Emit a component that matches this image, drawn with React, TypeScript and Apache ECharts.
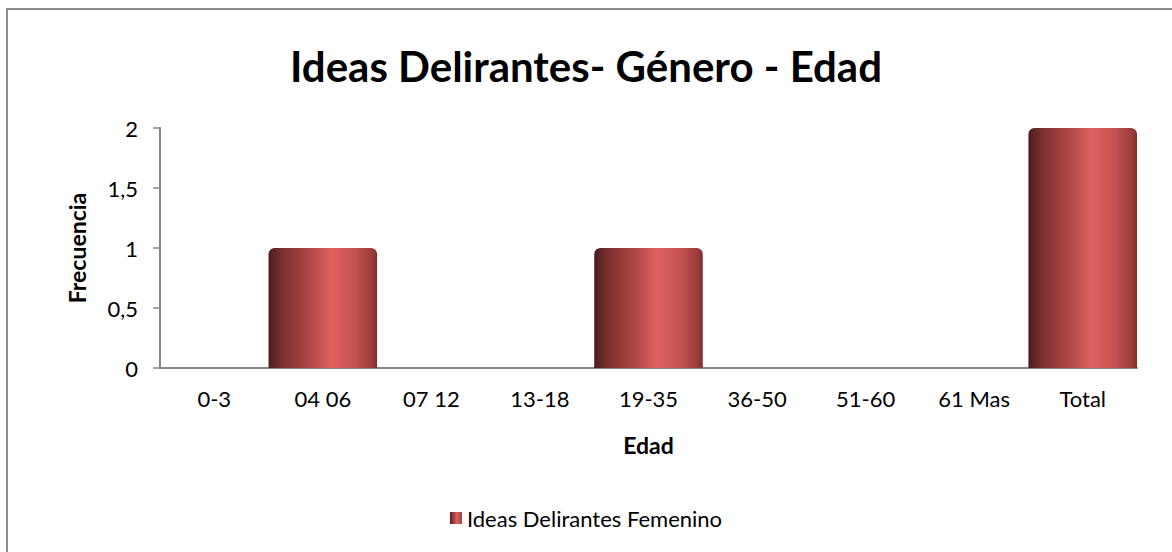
import React, { useEffect, useRef } from "react";
import * as echarts from "echarts";

const categories = ["0-3", "04 06", "07 12", "13-18", "19-35", "36-50", "51-60", "61 Mas", "Total"];
const values = [0, 1, 0, 0, 1, 0, 0, 0, 2];
const seriesName = "Ideas Delirantes Femenino";
const titleText = "Ideas Delirantes- Género - Edad";

const FONT = "Lato, 'Open Sans', sans-serif";

export default function App() {
  const ref = useRef<HTMLDivElement>(null);
  useEffect(() => {
    if (!ref.current) return;
    const chart = echarts.init(ref.current, null, { renderer: "svg" });
    const barGrad = new echarts.graphic.LinearGradient(0, 0, 1, 0, [
      { offset: 0, color: "#4a1c1c" },
      { offset: 0.12, color: "#7a2f2f" },
      { offset: 0.35, color: "#a84444" },
      { offset: 0.58, color: "#dc625f" },
      { offset: 0.8, color: "#c35150" },
      { offset: 0.95, color: "#9a3d3c" },
      { offset: 1, color: "#7a3030" },
    ]);
    chart.setOption({
      animation: false,
      backgroundColor: "#ffffff",
      title: {
        text: titleText,
        left: "center",
        top: 40,
        textStyle: { fontFamily: FONT, fontSize: 42, fontWeight: "bold", color: "#000" },
      },
      grid: { left: 160, right: 35, top: 128, bottom: 184 },
      legend: {
        bottom: 18,
        left: "center",
        itemWidth: 12,
        itemHeight: 12,
        itemGap: 4,
        icon: "rect",
        textStyle: { fontFamily: FONT, fontSize: 22, color: "#000" },
        data: [{ name: seriesName, itemStyle: { color: barGrad } }],
      },
      xAxis: {
        type: "category",
        data: categories,
        name: "Edad",
        nameLocation: "middle",
        nameGap: 65,
        nameTextStyle: { fontFamily: FONT, fontSize: 23, fontWeight: "bold", color: "#000" },
        axisLine: { lineStyle: { color: "#868686", width: 2 } },
        axisTick: { show: false },
        axisLabel: { fontFamily: FONT, fontSize: 22, color: "#000", margin: 19 },
      },
      yAxis: {
        type: "value",
        min: 0,
        max: 2,
        interval: 0.5,
        name: "Frecuencia",
        nameLocation: "middle",
        nameGap: 72,
        nameRotate: 90,
        nameTextStyle: { fontFamily: FONT, fontSize: 23, fontWeight: "bold", color: "#000" },
        axisLine: { show: true, lineStyle: { color: "#868686", width: 2 } },
        axisTick: { show: true, length: 7, lineStyle: { color: "#868686", width: 1.5 } },
        splitLine: { show: false },
        axisLabel: {
          fontFamily: FONT,
          fontSize: 22,
          color: "#000",
          margin: 22,
          formatter: (v: number) => String(v).replace(".", ","),
        },
      },
      series: [
        {
          name: seriesName,
          type: "bar",
          data: values,
          barCategoryGap: "0%",
          itemStyle: { color: barGrad, borderRadius: [6, 6, 0, 0] },
        },
      ],
      graphic: [
        {
          type: "rect",
          shape: { x: 7, y: 9, width: 1200, height: 600 },
          style: { fill: "none", stroke: "#8c8c8c", lineWidth: 2 },
          silent: true,
        },
      ],
    });
    return () => chart.dispose();
  }, []);
  return (
    <div
      ref={ref}
      style={{ position: "fixed", left: 0, top: 0, width: 1172, height: 552 }}
    />
  );
}
